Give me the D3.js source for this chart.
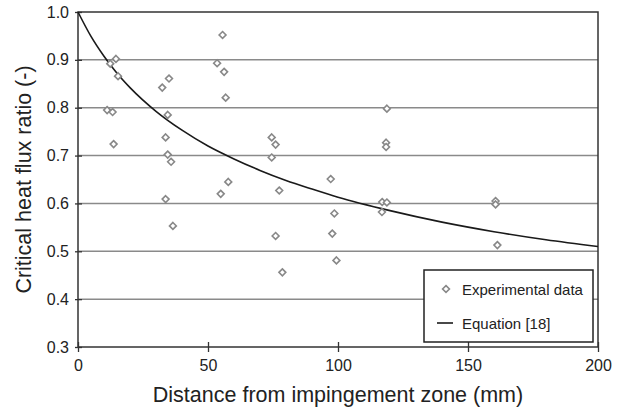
<!DOCTYPE html>
<html><head><meta charset="utf-8">
<script src="https://cdn.jsdelivr.net/npm/d3@7"></script>
<style>body{margin:0;background:#fff;} text{font-family:"Liberation Sans",Arial,sans-serif;}</style>
</head><body><svg id="c" width="628" height="410"></svg>
<script>
const expX = [55.6,14.6,12.4,15.4,53.5,56.2,35.0,32.4,56.8,11.2,13.3,34.5,13.7,33.7,34.5,35.8,
  74.5,76.0,74.5,118.8,118.5,118.5,97.2,33.7,36.5,54.9,57.8,77.4,117.0,118.8,116.9,98.6,76.0,97.8,99.4,78.6,160.6,160.6,161.3];
const expY = [0.952,0.902,0.892,0.866,0.893,0.875,0.861,0.842,0.821,0.795,0.791,0.785,0.724,0.738,0.702,0.687,
  0.738,0.723,0.696,0.798,0.727,0.718,0.651,0.609,0.553,0.620,0.645,0.627,0.603,0.602,0.582,0.579,0.532,0.537,0.481,0.456,0.605,0.598,0.513];
const eqX = [0,5,10,15,20,30,40,50,60,70,80,90,100,120,140,160,180,200];
const eqY = [1.0,0.949,0.9075,0.872,0.842,0.7925,0.753,0.720,0.693,0.669,0.648,0.630,0.613,0.585,0.561,0.541,0.524,0.510];
const xTicks = [0,50,100,150,200];
const yTicks = [0.3,0.4,0.5,0.6,0.7,0.8,0.9,1.0];
const legendLabels = ["Experimental data","Equation [18]"];

const svg = d3.select("#c");
const L=78, R=598, T=12, B=347;
const x = d3.scaleLinear().domain([0,200]).range([L,R]);
const y = d3.scaleLinear().domain([0.3,1.0]).range([B,T]);

// gridlines
svg.append("g").selectAll("line").data(yTicks.filter(v=>v>0.3&&v<1.0)).join("line")
  .attr("x1",L).attr("x2",R).attr("y1",d=>y(d)).attr("y2",d=>y(d))
  .attr("stroke","#8a8a8a").attr("stroke-width",1.5);

// frame
svg.append("rect").attr("x",L).attr("y",T).attr("width",R-L).attr("height",B-T)
  .attr("fill","none").attr("stroke","#333").attr("stroke-width",1.5);

// axes
const xa = svg.append("g").attr("transform",`translate(0,${B})`)
  .call(d3.axisBottom(x).tickValues(xTicks).tickSize(5).tickFormat(d3.format("d")));
xa.select(".domain").remove();
xa.selectAll(".tick line").attr("y1",-5).attr("y2",5).attr("stroke","#333").attr("stroke-width",1.3);
xa.selectAll(".tick text").attr("y",13).attr("font-size",16).attr("fill","#222").attr("font-family","Liberation Sans, Arial, sans-serif");

const ya = svg.append("g").attr("transform",`translate(${L},0)`)
  .call(d3.axisLeft(y).tickValues(yTicks).tickSize(3).tickFormat(d3.format(".1f")));
ya.select(".domain").remove();
ya.selectAll(".tick line").attr("x1",-3).attr("x2",4).attr("stroke","#333").attr("stroke-width",1.3);
ya.selectAll(".tick text").attr("x",-9).attr("font-size",16).attr("fill","#222").attr("font-family","Liberation Sans, Arial, sans-serif");

// curve
const line = d3.line().x(d=>x(d[0])).y(d=>y(d[1])).curve(d3.curveMonotoneX);
svg.append("path").datum(eqX.map((v,i)=>[v,eqY[i]])).attr("d",line)
  .attr("fill","none").attr("stroke","#1a1a1a").attr("stroke-width",1.6);

// diamonds
const dia = d3.symbol().type(d3.symbolDiamond2).size(30);
svg.append("g").selectAll("path").data(expX.map((v,i)=>[v,expY[i]])).join("path")
  .attr("d",dia).attr("transform",d=>`translate(${x(d[0])},${y(d[1])})`)
  .attr("fill","#fff").attr("stroke","#888").attr("stroke-width",1.6);

// titles
svg.append("text").attr("x",(L+R)/2).attr("y",402).attr("text-anchor","middle")
  .attr("font-size",21.5).attr("fill","#222").text("Distance from impingement zone (mm)");
svg.append("text").attr("transform",`translate(31,${(T+B)/2}) rotate(-90)`).attr("text-anchor","middle")
  .attr("font-size",21.5).attr("fill","#222").text("Critical heat flux ratio (-)");

// legend
const lg = svg.append("g");
lg.append("rect").attr("x",424).attr("y",270).attr("width",169).attr("height",72)
  .attr("fill","#fff").attr("stroke","#222").attr("stroke-width",1.5);
lg.append("path").attr("d",dia).attr("transform","translate(446,289)")
  .attr("fill","#fff").attr("stroke","#888").attr("stroke-width",1.6);
lg.append("line").attr("x1",437).attr("x2",453).attr("y1",323).attr("y2",323).attr("stroke","#1a1a1a").attr("stroke-width",1.6);
lg.selectAll("text").data(legendLabels).join("text")
  .attr("x",462).attr("y",(d,i)=>i===0?294.5:328.5).attr("font-size",15).attr("fill","#222").text(d=>d);
</script></body></html>
